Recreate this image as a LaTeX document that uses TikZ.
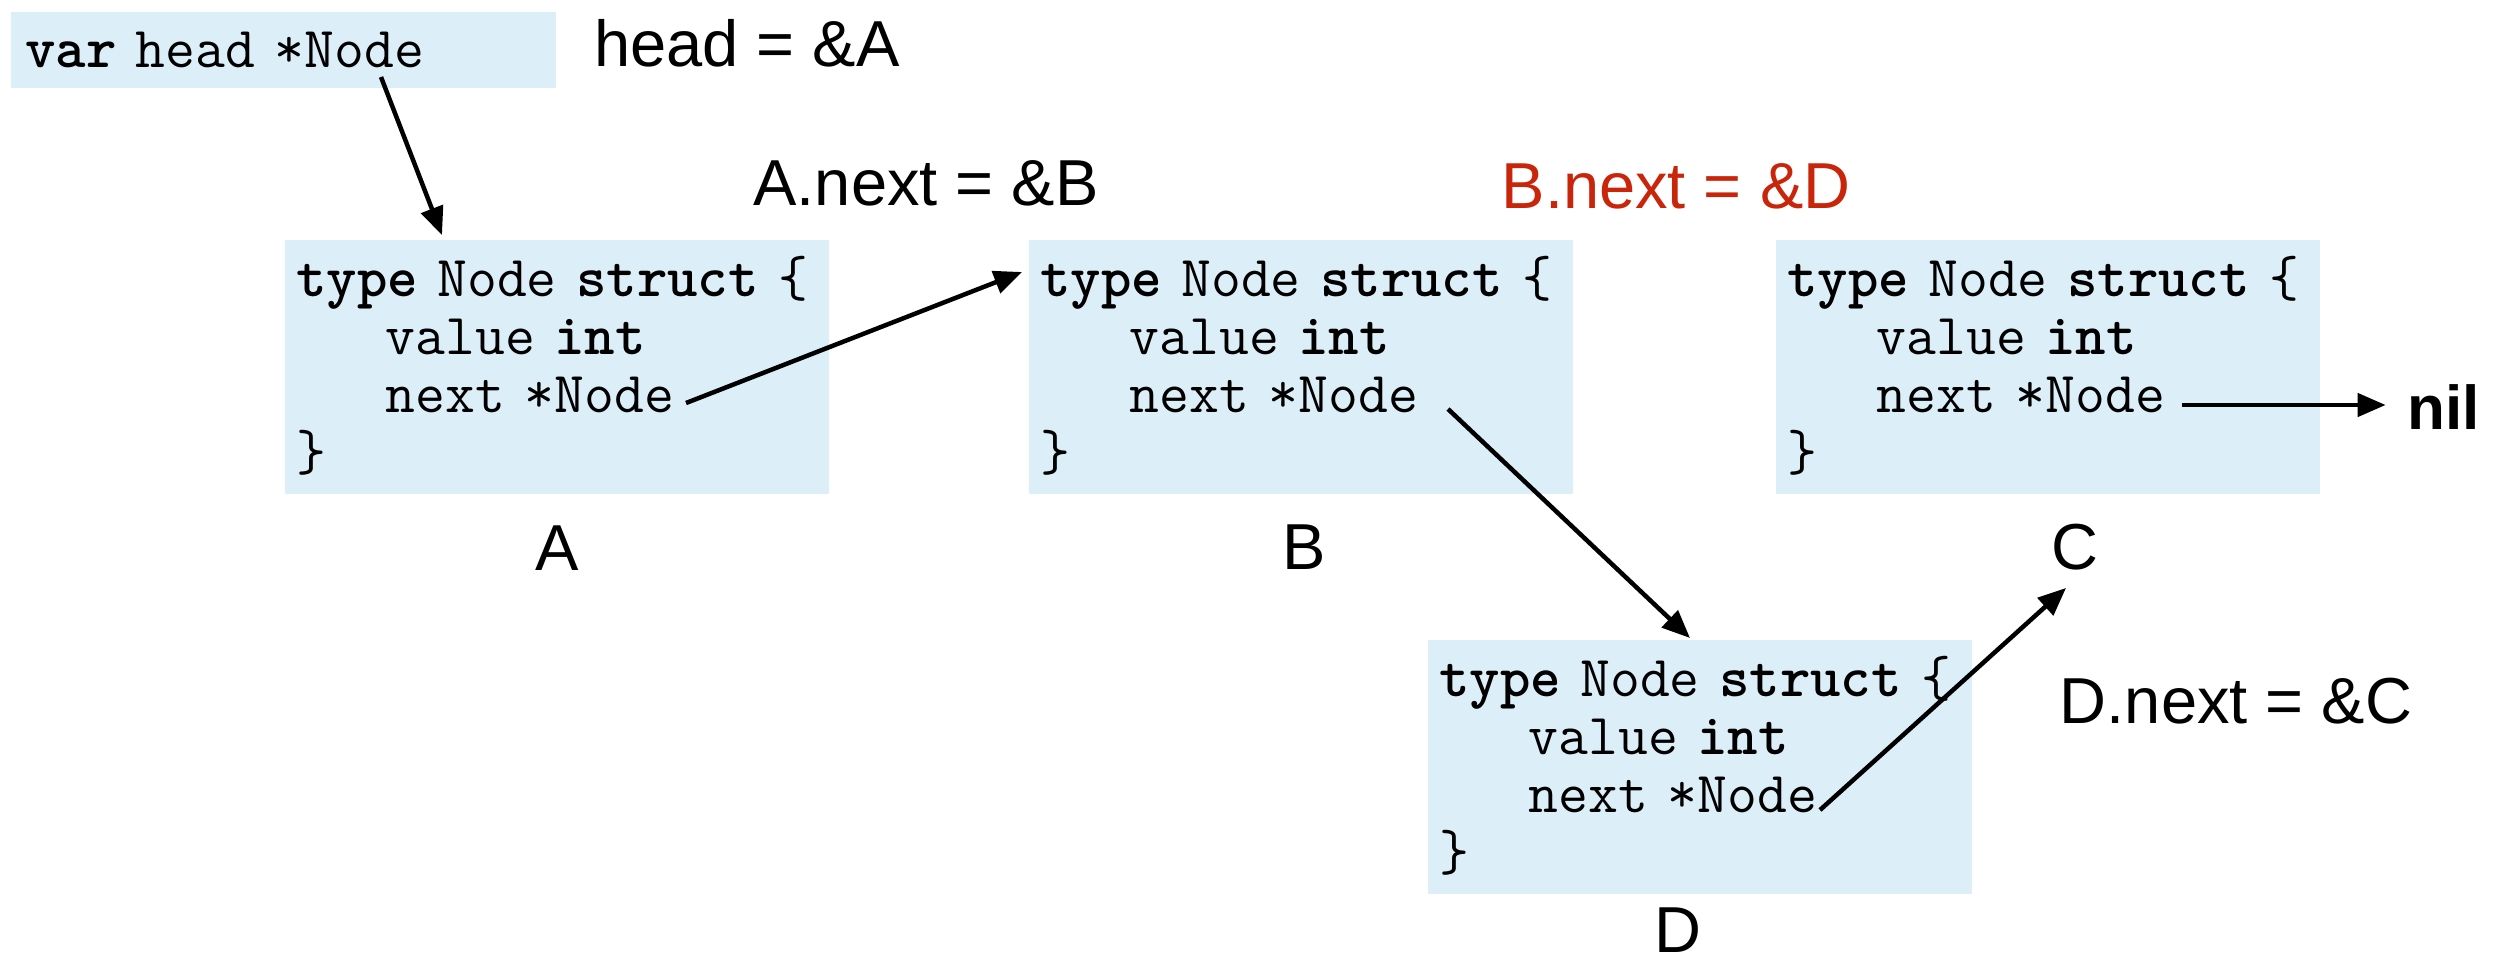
\documentclass[tikz,border=0pt]{standalone}
\usepackage{fontspec}
\setmainfont{Liberation Sans}
\usetikzlibrary{arrows.meta,calc}

\definecolor{boxblue}{RGB}{220,239,248}
\definecolor{notered}{RGB}{201,37,10}

% three-character indent for the field lines
\newcommand\ind{\hphantom{xxx}}

% body of one list element
\newcommand\structbody{%
  \rule{0pt}{56pt}\textbf{type} Node \textbf{struct} \{\\
  \ind value \textbf{int}\\
  \ind next *Node\\
  \}\rule[-24pt]{0pt}{24pt}}

\tikzset{
  codefont/.style={font=\ttfamily\fontsize{58}{58}\selectfont},
  structbox/.style={codefont, fill=boxblue, anchor=north west,
    inner xsep=11pt, inner ysep=0pt, text width=522pt,
    minimum height=254pt, align=left},
  varbox/.style={codefont, fill=boxblue, anchor=north west,
    inner xsep=14pt, inner ysep=0pt, text width=517pt,
    minimum height=76pt, align=left},
  lbl/.style={font=\fontsize{65}{78}\selectfont, anchor=base, inner sep=0pt},
  link/.style={-{Triangle[length=28pt,width=23pt]}, line width=4.5pt},
}

\begin{document}
\begin{tikzpicture}[x=1pt, y=-1pt]
  \useasboundingbox (0,0) rectangle (2508,964);

  % pointer variable and list elements
  \node[varbox] (head) at (11,12) {\textbf{var} head *Node};
  \node[structbox] (A) at (285,240)  {\structbody};
  \node[structbox] (B) at (1029,240) {\structbody};
  \node[structbox] (C) at (1776,240) {\structbody};
  \node[structbox] (D) at (1428,640) {\structbody};

  % element names
  \node[lbl] (Albl) at (557,570)  {A};
  \node[lbl] (Blbl) at (1304,569) {B};
  \node[lbl] (Clbl) at (2075,569) {C};
  \node[lbl] (Dlbl) at (1678,952) {D};

  % assignments
  \node[lbl] (headeq) at (747,66)  {head = \&A};
  \node[lbl] (Anext)  at (926,205) {A.next = \&B};
  \node[lbl, text=notered] (Bnext) at (1676,208) {B.next = \&D};
  \node[lbl] (Dnext)  at (2236,723) {D.next = \&C};
  \node[lbl, font=\fontsize{62}{74}\selectfont\bfseries] (nil) at (2444,429) {nil};

  % pointer ends
  \coordinate (headout) at ($(head.north west)+(370,65)$);
  \coordinate (Ain)  at ($(A.north west)+(157,-5)$);
  \coordinate (Aout) at ($(A.north west)+(401,163)$);
  \coordinate (Bin)  at ($(B.north west)+(-7,32)$);
  \coordinate (Bout) at ($(B.north west)+(419,169)$);
  \coordinate (Din)  at ($(D.north west)+(262,-2)$);
  \coordinate (Dout) at ($(D.north west)+(392,170)$);
  \coordinate (Cin)  at ($(Clbl.base)+(-9,19)$);
  \coordinate (Cout) at ($(C.north west)+(406,165)$);

  % links
  \draw[link] (headout) -- (Ain);
  \draw[link] (Aout) -- (Bin);
  \draw[link] (Bout) -- (Din);
  \draw[link] (Dout) -- (Cin);
  \draw[link, shorten >=22pt] (Cout) -- (Cout -| nil.west);
\end{tikzpicture}
\end{document}
